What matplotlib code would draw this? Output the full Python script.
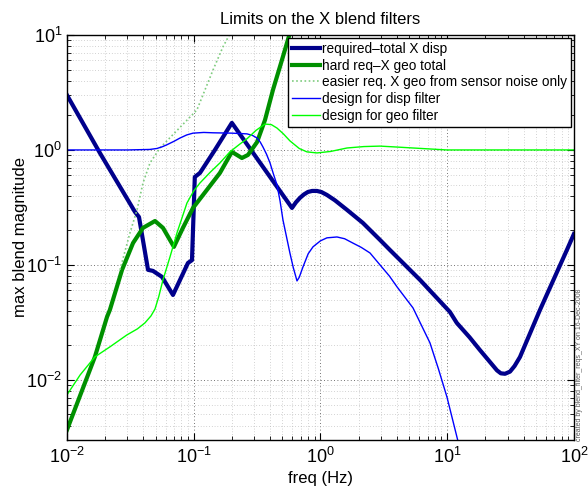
import matplotlib
matplotlib.use('Agg')
import matplotlib.pyplot as plt
from matplotlib.ticker import LogLocator, NullFormatter

plt.rcParams['font.family'] = ['Liberation Sans', 'DejaVu Sans']
plt.rcParams['mathtext.fontset'] = 'custom'
plt.rcParams['mathtext.rm'] = 'Liberation Sans'
plt.rcParams['mathtext.it'] = 'Liberation Sans:italic'

# required-total X disp (thick navy)
disp_req_f = [0.01, 0.0182, 0.0344, 0.037, 0.0436, 0.0477, 0.0562, 0.0686, 0.0901, 0.0969,
              0.102, 0.112, 0.147, 0.200, 0.596, 0.64, 0.689, 0.74, 0.796, 0.86, 0.938, 1.02,
              1.125, 1.3, 1.62, 2.16, 2.95, 3.53, 6.1, 10.5, 11.9, 15.0, 18.1, 21.7, 24.7,
              26.5, 28.6, 31.3, 34.0, 37.5, 54.0, 88.0, 100.0]
disp_req_v = [3.0, 0.94, 0.289, 0.261, 0.0906, 0.0887, 0.0787, 0.0548, 0.104, 0.110,
              0.582, 0.631, 1.0, 1.72, 0.313, 0.35, 0.383, 0.41, 0.431, 0.44, 0.44, 0.43,
              0.406, 0.365, 0.301, 0.232, 0.165, 0.135, 0.0741, 0.039, 0.0313, 0.0235, 0.0182,
              0.01435, 0.0121, 0.0114, 0.0113, 0.0118, 0.0132, 0.0158, 0.0407, 0.135, 0.186]

# hard req-X geo total (thick green)
geo_req_f = [0.01, 0.0166, 0.0207, 0.0218, 0.0272, 0.0332, 0.0398, 0.0495, 0.0572, 0.0698,
             0.0822, 0.0987, 0.127, 0.161, 0.2, 0.24, 0.268, 0.316, 0.365, 0.422, 0.497, 0.574]
geo_req_v = [0.00367, 0.01585, 0.0353, 0.0406, 0.0906, 0.155, 0.21, 0.241, 0.21, 0.1436,
             0.21, 0.313, 0.449, 0.631, 0.962, 0.851, 0.905, 1.17, 1.82, 3.33, 6.07, 10.4]

# easier req. X geo from sensor noise only (dotted)
geo_easy_f = [0.0262, 0.0314, 0.0357, 0.0398, 0.0452, 0.0542, 0.106, 0.142, 0.170, 0.20]
geo_easy_v = [0.0906, 0.19, 0.301, 0.516, 0.771, 1.04, 2.23, 4.96, 7.87, 11.0]

# design for disp filter (thin blue)
disp_des_f = [0.01, 0.03, 0.045, 0.0513, 0.057, 0.0615, 0.07, 0.078, 0.088, 0.0987, 0.12,
              0.142, 0.2, 0.263, 0.29, 0.316, 0.335, 0.352, 0.375, 0.400, 0.425, 0.454, 0.48,
              0.506, 0.54, 0.574, 0.61, 0.653, 0.68, 0.728, 0.8, 0.873, 1.0, 1.125, 1.35, 1.55,
              1.80, 2.1, 2.46, 2.95, 3.5, 4.02, 5.37, 7.31, 8.5, 9.95, 12.2]
disp_des_v = [1.0, 1.0, 1.01, 1.03, 1.07, 1.11, 1.19, 1.27, 1.35, 1.40, 1.42,
              1.41, 1.40, 1.38, 1.34, 1.27, 1.17, 1.06, 0.92, 0.771, 0.62, 0.497, 0.36,
              0.246, 0.175, 0.127, 0.095, 0.0726, 0.078, 0.0961, 0.125, 0.1436, 0.162, 0.172,
              0.175, 0.169, 0.155, 0.142, 0.127, 0.1, 0.08, 0.0644, 0.0423, 0.0210, 0.0126,
              0.00711, 0.00289]

# design for geo filter (thin light green)
geo_des_f = [0.01, 0.0127, 0.0166, 0.0218, 0.0297, 0.036, 0.0412, 0.046, 0.0495, 0.053,
             0.0572, 0.065, 0.0738, 0.0885, 0.1, 0.112, 0.135, 0.161, 0.193, 0.23, 0.263,
             0.31, 0.365, 0.41, 0.454, 0.51, 0.574, 0.68, 0.782, 0.938, 1.2, 1.62, 2.2,
             2.95, 4.0, 5.37, 9.95, 100.0]
geo_des_v = [0.00741, 0.01104, 0.01585, 0.01936, 0.0246, 0.0278, 0.0313, 0.036, 0.0414,
             0.053, 0.0741, 0.1175, 0.19, 0.346, 0.44, 0.516, 0.64, 0.771, 0.962, 1.12,
             1.25, 1.48, 1.68, 1.66, 1.55, 1.38, 1.2, 1.03, 0.962, 0.942, 0.97, 1.04, 1.07,
             1.08, 1.06, 1.04, 1.0, 1.0]

fig = plt.figure(figsize=(5.88, 4.92), dpi=100, facecolor='white')
ax = fig.add_axes([0.1139, 0.1057, 0.8622, 0.8232])

ax.loglog(disp_req_f, disp_req_v, color='#00008b', lw=3, label='required\u2013total X disp')
ax.loglog(geo_req_f, geo_req_v, color='#009000', lw=3, label='hard req\u2013X geo total')
ax.loglog(geo_easy_f, geo_easy_v, color='#7fcc7f', lw=1.2, ls=(0, (1, 1.5)),
          label='easier req. X geo from sensor noise only')
ax.loglog(disp_des_f, disp_des_v, color='#0000ff', lw=1, label='design for disp filter')
ax.loglog(geo_des_f, geo_des_v, color='#00ff00', lw=1, label='design for geo filter')

ax.set_xlim(1e-2, 1e2)
ax.set_ylim(3e-3, 1e1)

ax.xaxis.set_major_locator(LogLocator(base=10, numticks=10))
ax.xaxis.set_minor_locator(LogLocator(base=10, subs=range(2, 10), numticks=20))
ax.yaxis.set_minor_locator(LogLocator(base=10, subs=range(2, 10), numticks=20))
ax.xaxis.set_minor_formatter(NullFormatter())
ax.yaxis.set_minor_formatter(NullFormatter())

ax.grid(True, which='major', color='#444444', ls=(0, (1, 3)), lw=0.6)
ax.grid(True, which='minor', color='#aaaaaa', ls=(0, (1, 3)), lw=0.5)

ax.tick_params(which='both', direction='in', top=True, right=True, labelsize=13)
ax.tick_params(which='major', length=5)
ax.tick_params(which='minor', length=3)
ax.tick_params(axis='x', pad=5)
for s in ax.spines.values():
    s.set_linewidth(1.0)

ax.set_title('Limits on the X blend filters', fontsize=12, pad=8)
ax.set_xlabel('freq (Hz)', fontsize=12, labelpad=3)
ax.set_ylabel('max blend magnitude', fontsize=12)
ax.yaxis.set_label_coords(-0.077, 0.5)

leg = ax.legend(loc='upper right', fontsize=9.8, handlelength=2.05, handletextpad=0.15,
                labelspacing=0.2, borderpad=0.3, borderaxespad=0.2, fancybox=False,
                framealpha=1, edgecolor='black')
leg.get_frame().set_linewidth(1.0)

fig.text(0.985, 0.104, 'created by blend_filter_reqs_XY on 16-Dec-2008', rotation=90,
         fontsize=5, color='#555555', ha='center', va='bottom')

fig.savefig('out.png', dpi=100, facecolor='white')
